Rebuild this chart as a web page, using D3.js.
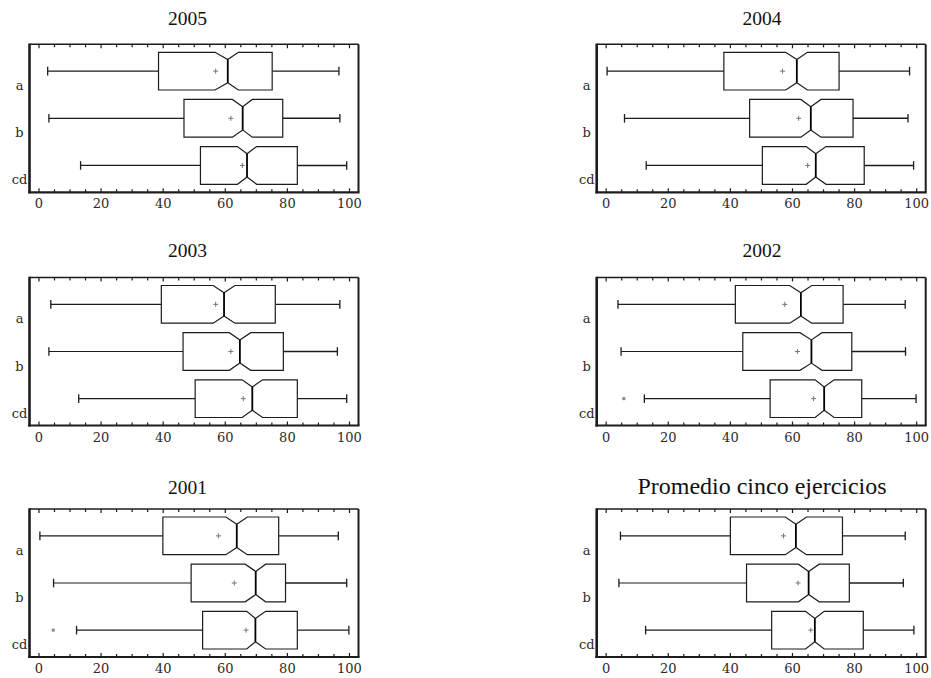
<!DOCTYPE html>
<html>
<head>
<meta charset="utf-8">
<script src="https://cdn.jsdelivr.net/npm/d3@7"></script>
<style>
  html, body { margin: 0; padding: 0; background: #fff; }
  svg { display: block; }
</style>
</head>
<body>
<svg id="chart" width="931" height="678"></svg>
<script>
// Panel titles and the three groups compared in each panel
const titles = ["2005", "2004", "2003", "2002", "2001", "Promedio cinco ejercicios"];
const categories = ["a", "b", "cd"];
const tickValues = [0, 20, 40, 60, 80, 100];

// Box-plot statistics per panel, one value per group (a, b, cd)
const whiskerLow = [
  [2.8, 3.2, 13.4], [0.3, 5.9, 12.9], [3.8, 3.2, 12.8],
  [3.8, 4.8, 12.3], [0.3, 4.7, 12.1], [4.6, 4.1, 12.7]
];
const q1 = [
  [38.5, 46.7, 52.0], [37.9, 46.2, 50.3], [39.4, 46.4, 50.3],
  [41.6, 44.0, 52.8], [39.9, 49.0, 52.7], [40.0, 45.2, 53.3]
];
const notchLow = [
  [56.7, 62.3, 63.9], [57.8, 62.7, 64.4], [56.1, 61.3, 65.4],
  [59.1, 62.4, 67.3], [60.2, 66.4, 66.9], [57.7, 61.9, 64.2]
];
const median = [
  [60.8, 65.6, 67.0], [61.4, 65.9, 67.5], [59.6, 64.7, 68.7],
  [62.7, 66.1, 70.2], [63.7, 69.8, 69.7], [61.1, 65.2, 67.2]
];
const notchHigh = [
  [64.2, 68.7, 70.1], [64.8, 69.2, 70.8], [63.1, 68.2, 72.0],
  [66.2, 69.5, 73.4], [67.1, 73.0, 73.0], [64.5, 68.6, 70.2]
];
const q3 = [
  [75.1, 78.5, 83.2], [75.0, 79.5, 83.1], [76.1, 78.7, 83.2],
  [76.3, 79.1, 82.3], [77.2, 79.4, 83.2], [76.1, 78.3, 82.8]
];
const whiskerHigh = [
  [96.6, 96.9, 99.1], [97.7, 97.2, 99.0], [96.9, 96.1, 99.1],
  [96.3, 96.4, 99.8], [96.4, 99.1, 99.8], [96.3, 95.7, 99.1]
];
const means = [
  [56.9, 61.8, 65.5], [56.8, 62.0, 64.9], [56.9, 61.8, 65.8],
  [57.5, 61.6, 66.8], [57.8, 62.9, 66.7], [57.1, 61.8, 65.9]
];
// Outlying observations: [panel, group, value]
const outliers = [
  [3, 2, 5.7],
  [4, 2, 4.6]
];

// ---- layout ----
const colX = [29.5, 596.7];
const rowY = [44.3, 277.5, 509];
const panelW = 329, panelH = 148;
const titleX = [187.5, 762];
const titleBase = [25, 257, 494];

const serif = "'Liberation Serif', 'Times New Roman', serif";
const labelFont = "'DejaVu Serif', serif";
const ink = "#1c1c1c";

const svg = d3.select("#chart");

const x = d3.scaleLinear().domain([-3.05, 102.9]).range([0, panelW]);
const y = d3.scalePoint().domain(categories).range([0, panelH]).padding(0.57);
const halfBox = y.step() * 0.4;
const indent = halfBox * 0.385;
const capHalf = 4.3;

titles.forEach((title, p) => {
  const col = p % 2, row = Math.floor(p / 2);
  const g = svg.append("g").attr("transform", `translate(${colX[col]},${rowY[row]})`);

  svg.append("text")
    .attr("x", titleX[col]).attr("y", titleBase[row])
    .attr("text-anchor", "middle")
    .attr("font-family", serif)
    .attr("font-size", title.length > 4 ? 24 : 19.5)
    .attr("fill", "#111")
    .text(title);

  // bottom axis with inward ticks every 5 units, labels every 20
  const minor = d3.range(0, 101, 5);
  const bottom = g.append("g").attr("transform", `translate(0,${panelH})`);
  bottom.selectAll("line.tk").data(minor).join("line")
    .attr("x1", d => x(d)).attr("x2", d => x(d))
    .attr("y1", 0).attr("y2", d => d % 20 === 0 ? -4 : -3)
    .attr("stroke", ink).attr("stroke-width", 1.2);
  bottom.selectAll("text").data(tickValues).join("text")
    .attr("x", d => x(d)).attr("y", 16)
    .attr("text-anchor", "middle")
    .attr("font-family", labelFont).attr("font-size", 13)
    .attr("fill", "#2a2a2a")
    .text(d => d);

  // top edge ticks
  g.append("g").selectAll("line").data(minor).join("line")
    .attr("x1", d => x(d)).attr("x2", d => x(d))
    .attr("y1", 0).attr("y2", d => d % 20 === 0 ? 4 : 3)
    .attr("stroke", ink).attr("stroke-width", 1.2);

  // group labels
  g.selectAll("text.cat").data(categories).join("text")
    .attr("class", "cat")
    .attr("x", -10).attr("y", d => y(d) + 19)
    .attr("text-anchor", "middle")
    .attr("font-family", labelFont).attr("font-size", 13)
    .attr("fill", "#2a2a2a")
    .text(d => d);

  // notched boxes
  categories.forEach((c, i) => {
    const cy = y(c);
    const top = cy - halfBox, bot = cy + halfBox;
    const xm = x(median[p][i]);

    // whiskers with end caps
    g.append("line")
      .attr("x1", x(whiskerLow[p][i])).attr("x2", x(q1[p][i]))
      .attr("y1", cy).attr("y2", cy)
      .attr("stroke", ink).attr("stroke-width", 1.2);
    g.append("line")
      .attr("x1", x(q3[p][i])).attr("x2", x(whiskerHigh[p][i]))
      .attr("y1", cy).attr("y2", cy)
      .attr("stroke", ink).attr("stroke-width", 1.4);
    [whiskerLow[p][i], whiskerHigh[p][i]].forEach(v => {
      g.append("line")
        .attr("x1", x(v)).attr("x2", x(v))
        .attr("y1", cy - capHalf).attr("y2", cy + capHalf)
        .attr("stroke", ink).attr("stroke-width", 1.3);
    });

    const pts = [
      [x(q1[p][i]), top], [x(notchLow[p][i]), top], [xm, top + indent],
      [x(notchHigh[p][i]), top], [x(q3[p][i]), top], [x(q3[p][i]), bot],
      [x(notchHigh[p][i]), bot], [xm, bot - indent], [x(notchLow[p][i]), bot],
      [x(q1[p][i]), bot]
    ];
    g.append("path")
      .attr("d", d3.line()(pts) + "Z")
      .attr("fill", "#fff")
      .attr("stroke", ink).attr("stroke-width", 1.2);

    // median
    g.append("line")
      .attr("x1", xm).attr("x2", xm)
      .attr("y1", top + indent).attr("y2", bot - indent)
      .attr("stroke", "#000").attr("stroke-width", 1.8);

    // mean marker
    const xmn = x(means[p][i]);
    g.append("path")
      .attr("d", `M${xmn - 2.5},${cy}H${xmn + 2.5}M${xmn},${cy - 2.5}V${cy + 2.5}`)
      .attr("stroke", "#777").attr("stroke-width", 1);
  });

  // outliers
  outliers.filter(o => o[0] === p).forEach(o => {
    g.append("rect")
      .attr("x", x(o[2]) - 1.5).attr("y", y(categories[o[1]]) - 1.5)
      .attr("width", 3).attr("height", 3)
      .attr("fill", "#888");
  });

  // frame: heavier left and bottom edges
  g.append("line").attr("x1", 0).attr("x2", panelW).attr("y1", 0).attr("y2", 0)
    .attr("stroke", ink).attr("stroke-width", 1.5);
  g.append("line").attr("x1", panelW).attr("x2", panelW).attr("y1", 0).attr("y2", panelH)
    .attr("stroke", ink).attr("stroke-width", 2);
  g.append("line").attr("x1", 0).attr("x2", 0).attr("y1", -0.75).attr("y2", panelH + 1)
    .attr("stroke", ink).attr("stroke-width", 2.6);
  g.append("line").attr("x1", -1.3).attr("x2", panelW + 1).attr("y1", panelH).attr("y2", panelH)
    .attr("stroke", ink).attr("stroke-width", 2.2);
});
</script>
</body>
</html>
